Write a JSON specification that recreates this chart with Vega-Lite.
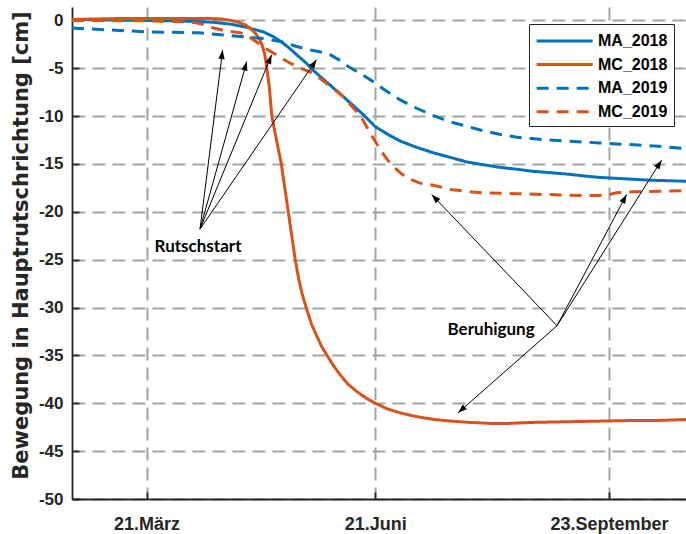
{
  "$schema": "https://vega.github.io/schema/vega-lite/v6.json",
  "width": 614,
  "height": 492,
  "autosize": {"type": "none"},
  "padding": {"left": 72, "top": 7, "right": 0, "bottom": 35},
  "background": "white",
  "config": {
    "view": {"stroke": null},
    "font": "Liberation Sans",
    "axis": {
      "domainColor": "#262626",
      "domainWidth": 1.8,
      "tickColor": "#262626",
      "tickWidth": 1.8,
      "labelColor": "#262626",
      "labelFont": "Liberation Sans",
      "labelFontWeight": "bold",
      "labelFontSize": 17,
      "titleFont": "DejaVu Sans",
      "titleColor": "#262626",
      "gridColor": "#a3a3a3",
      "gridWidth": 2,
      "gridDash": [13, 7]
    },
    "legend": {
      "orient": "none",
      "legendX": 457,
      "legendY": 17,
      "strokeColor": "#262626",
      "fillColor": "white",
      "padding": 6,
      "symbolType": "M-1,0H5",
      "symbolSize": 348,
      "symbolStrokeWidth": 3,
      "labelFont": "Liberation Sans",
      "labelFontSize": 16,
      "labelFontWeight": "bold",
      "labelColor": "#000000",
      "labelOffset": 41,
      "rowPadding": 4.6,
      "cornerRadius": 0
    }
  },
  "resolve": {"axis": {"x": "independent"}},
  "layer": [
    {
      "data": {
        "values": [
          {"s": "MA_2018", "d": 50, "v": 0.1}, {"s": "MA_2018", "d": 80, "v": 0.0}, {"s": "MA_2018", "d": 100, "v": -0.1}, {"s": "MA_2018", "d": 107, "v": -0.2}, {"s": "MA_2018", "d": 114, "v": -0.4}, {"s": "MA_2018", "d": 120, "v": -0.7}, {"s": "MA_2018", "d": 127, "v": -1.2}, {"s": "MA_2018", "d": 131, "v": -1.7}, {"s": "MA_2018", "d": 134, "v": -2.2}, {"s": "MA_2018", "d": 137, "v": -2.8}, {"s": "MA_2018", "d": 140, "v": -3.5}, {"s": "MA_2018", "d": 144, "v": -4.4}, {"s": "MA_2018", "d": 147, "v": -5.2}, {"s": "MA_2018", "d": 150, "v": -5.9}, {"s": "MA_2018", "d": 154, "v": -6.8}, {"s": "MA_2018", "d": 158, "v": -7.7}, {"s": "MA_2018", "d": 161, "v": -8.4}, {"s": "MA_2018", "d": 164, "v": -9.1}, {"s": "MA_2018", "d": 167, "v": -9.8}, {"s": "MA_2018", "d": 172, "v": -11.1}, {"s": "MA_2018", "d": 177, "v": -11.9}, {"s": "MA_2018", "d": 182, "v": -12.6}, {"s": "MA_2018", "d": 188, "v": -13.2}, {"s": "MA_2018", "d": 195, "v": -13.8}, {"s": "MA_2018", "d": 202, "v": -14.3}, {"s": "MA_2018", "d": 209, "v": -14.8}, {"s": "MA_2018", "d": 216, "v": -15.1}, {"s": "MA_2018", "d": 222, "v": -15.35}, {"s": "MA_2018", "d": 229, "v": -15.55}, {"s": "MA_2018", "d": 235, "v": -15.75}, {"s": "MA_2018", "d": 242, "v": -15.9}, {"s": "MA_2018", "d": 249, "v": -16.05}, {"s": "MA_2018", "d": 256, "v": -16.25}, {"s": "MA_2018", "d": 262, "v": -16.4}, {"s": "MA_2018", "d": 269, "v": -16.5}, {"s": "MA_2018", "d": 276, "v": -16.6}, {"s": "MA_2018", "d": 283, "v": -16.7}, {"s": "MA_2018", "d": 290, "v": -16.75}, {"s": "MA_2018", "d": 297, "v": -16.8},
          {"s": "MC_2018", "d": 50, "v": 0.1}, {"s": "MC_2018", "d": 70, "v": 0.2}, {"s": "MC_2018", "d": 90, "v": 0.2}, {"s": "MC_2018", "d": 105, "v": 0.2}, {"s": "MC_2018", "d": 110, "v": 0.15}, {"s": "MC_2018", "d": 114, "v": 0.0}, {"s": "MC_2018", "d": 117, "v": -0.2}, {"s": "MC_2018", "d": 120, "v": -0.5}, {"s": "MC_2018", "d": 122, "v": -0.9}, {"s": "MC_2018", "d": 124, "v": -1.4}, {"s": "MC_2018", "d": 125.5, "v": -2.0}, {"s": "MC_2018", "d": 126.5, "v": -2.6}, {"s": "MC_2018", "d": 127.5, "v": -3.5}, {"s": "MC_2018", "d": 128.4, "v": -5.0}, {"s": "MC_2018", "d": 129.4, "v": -7.0}, {"s": "MC_2018", "d": 130.4, "v": -10.0}, {"s": "MC_2018", "d": 131.5, "v": -11.5}, {"s": "MC_2018", "d": 132.5, "v": -12.8}, {"s": "MC_2018", "d": 134.2, "v": -15.0}, {"s": "MC_2018", "d": 135.6, "v": -17.5}, {"s": "MC_2018", "d": 137, "v": -20.0}, {"s": "MC_2018", "d": 138.4, "v": -22.5}, {"s": "MC_2018", "d": 139.8, "v": -25.0}, {"s": "MC_2018", "d": 141.2, "v": -27.0}, {"s": "MC_2018", "d": 142.5, "v": -28.5}, {"s": "MC_2018", "d": 144.2, "v": -30.0}, {"s": "MC_2018", "d": 146.3, "v": -31.7}, {"s": "MC_2018", "d": 148.5, "v": -33.0}, {"s": "MC_2018", "d": 150.5, "v": -34.1}, {"s": "MC_2018", "d": 152.6, "v": -35.0}, {"s": "MC_2018", "d": 155, "v": -36.0}, {"s": "MC_2018", "d": 157.8, "v": -37.0}, {"s": "MC_2018", "d": 161, "v": -38.0}, {"s": "MC_2018", "d": 164.7, "v": -38.8}, {"s": "MC_2018", "d": 168, "v": -39.4}, {"s": "MC_2018", "d": 172, "v": -40.0}, {"s": "MC_2018", "d": 177, "v": -40.6}, {"s": "MC_2018", "d": 182, "v": -41.0}, {"s": "MC_2018", "d": 187, "v": -41.3}, {"s": "MC_2018", "d": 191, "v": -41.5}, {"s": "MC_2018", "d": 196, "v": -41.7}, {"s": "MC_2018", "d": 202, "v": -41.85}, {"s": "MC_2018", "d": 210, "v": -42.0}, {"s": "MC_2018", "d": 218, "v": -42.1}, {"s": "MC_2018", "d": 226, "v": -42.1}, {"s": "MC_2018", "d": 235, "v": -42.0}, {"s": "MC_2018", "d": 245, "v": -41.95}, {"s": "MC_2018", "d": 255, "v": -41.9}, {"s": "MC_2018", "d": 265, "v": -41.85}, {"s": "MC_2018", "d": 275, "v": -41.8}, {"s": "MC_2018", "d": 285, "v": -41.8}, {"s": "MC_2018", "d": 297, "v": -41.7},
          {"s": "MA_2019", "d": 50, "v": -0.8}, {"s": "MA_2019", "d": 65, "v": -1.0}, {"s": "MA_2019", "d": 81, "v": -1.2}, {"s": "MA_2019", "d": 101, "v": -1.3}, {"s": "MA_2019", "d": 114, "v": -1.6}, {"s": "MA_2019", "d": 127, "v": -1.9}, {"s": "MA_2019", "d": 134, "v": -2.2}, {"s": "MA_2019", "d": 140, "v": -2.7}, {"s": "MA_2019", "d": 146, "v": -3.1}, {"s": "MA_2019", "d": 150, "v": -3.3}, {"s": "MA_2019", "d": 154, "v": -3.6}, {"s": "MA_2019", "d": 158, "v": -4.2}, {"s": "MA_2019", "d": 161, "v": -4.8}, {"s": "MA_2019", "d": 165, "v": -5.4}, {"s": "MA_2019", "d": 170, "v": -6.2}, {"s": "MA_2019", "d": 176, "v": -7.3}, {"s": "MA_2019", "d": 182, "v": -8.3}, {"s": "MA_2019", "d": 188, "v": -9.1}, {"s": "MA_2019", "d": 194, "v": -9.8}, {"s": "MA_2019", "d": 202, "v": -10.6}, {"s": "MA_2019", "d": 208, "v": -11.0}, {"s": "MA_2019", "d": 215, "v": -11.5}, {"s": "MA_2019", "d": 222, "v": -11.9}, {"s": "MA_2019", "d": 229, "v": -12.2}, {"s": "MA_2019", "d": 235, "v": -12.35}, {"s": "MA_2019", "d": 242, "v": -12.5}, {"s": "MA_2019", "d": 252, "v": -12.65}, {"s": "MA_2019", "d": 262, "v": -12.8}, {"s": "MA_2019", "d": 269, "v": -12.9}, {"s": "MA_2019", "d": 276, "v": -13.0}, {"s": "MA_2019", "d": 286, "v": -13.15}, {"s": "MA_2019", "d": 297, "v": -13.4},
          {"s": "MC_2019", "d": 50, "v": 0.0}, {"s": "MC_2019", "d": 80, "v": -0.05}, {"s": "MC_2019", "d": 95, "v": -0.15}, {"s": "MC_2019", "d": 100, "v": -0.25}, {"s": "MC_2019", "d": 104, "v": -0.5}, {"s": "MC_2019", "d": 107, "v": -0.8}, {"s": "MC_2019", "d": 112, "v": -1.1}, {"s": "MC_2019", "d": 118, "v": -1.3}, {"s": "MC_2019", "d": 121, "v": -1.7}, {"s": "MC_2019", "d": 124, "v": -2.2}, {"s": "MC_2019", "d": 127, "v": -2.8}, {"s": "MC_2019", "d": 131, "v": -3.4}, {"s": "MC_2019", "d": 134, "v": -3.9}, {"s": "MC_2019", "d": 138, "v": -4.5}, {"s": "MC_2019", "d": 142, "v": -5.0}, {"s": "MC_2019", "d": 146, "v": -5.4}, {"s": "MC_2019", "d": 150, "v": -6.1}, {"s": "MC_2019", "d": 154, "v": -6.9}, {"s": "MC_2019", "d": 158, "v": -7.7}, {"s": "MC_2019", "d": 161, "v": -8.5}, {"s": "MC_2019", "d": 164, "v": -9.4}, {"s": "MC_2019", "d": 167, "v": -10.4}, {"s": "MC_2019", "d": 170, "v": -11.8}, {"s": "MC_2019", "d": 174, "v": -13.5}, {"s": "MC_2019", "d": 177, "v": -14.6}, {"s": "MC_2019", "d": 179, "v": -15.2}, {"s": "MC_2019", "d": 182, "v": -15.9}, {"s": "MC_2019", "d": 185, "v": -16.5}, {"s": "MC_2019", "d": 190, "v": -17.0}, {"s": "MC_2019", "d": 195, "v": -17.2}, {"s": "MC_2019", "d": 203, "v": -17.7}, {"s": "MC_2019", "d": 210, "v": -17.9}, {"s": "MC_2019", "d": 215, "v": -18.0}, {"s": "MC_2019", "d": 229, "v": -18.1}, {"s": "MC_2019", "d": 242, "v": -18.2}, {"s": "MC_2019", "d": 255, "v": -18.3}, {"s": "MC_2019", "d": 262, "v": -18.3}, {"s": "MC_2019", "d": 266, "v": -18.2}, {"s": "MC_2019", "d": 269, "v": -18.0}, {"s": "MC_2019", "d": 276, "v": -17.9}, {"s": "MC_2019", "d": 286, "v": -17.85}, {"s": "MC_2019", "d": 297, "v": -17.8}
        ]
      },
      "mark": {"type": "line", "strokeWidth": 3, "strokeCap": "butt"},
      "encoding": {
        "x": {
          "field": "d", "type": "quantitative",
          "scale": {"domain": [50, 297], "nice": false, "zero": false},
          "axis": {
            "orient": "bottom", "title": null, "values": [80, 172, 266],
            "labelExpr": "datum.value == 80 ? '21.März' : datum.value == 172 ? '21.Juni' : '23.September'",
            "grid": true, "tickSize": -7, "labelPadding": 23, "labelFontSize": 18
          }
        },
        "y": {
          "field": "v", "type": "quantitative",
          "scale": {"domain": [-50, 1.4], "nice": false, "zero": false},
          "axis": {
            "title": "Bewegung in Hauptrutschrichtung [cm]",
            "titleFontSize": 21, "titleFontWeight": "bold", "titlePadding": 7, "titleY": 238,
            "values": [-50, -45, -40, -35, -30, -25, -20, -15, -10, -5, 0],
            "labelExpr": "'' + datum.value",
            "grid": true, "tickSize": -7, "labelPadding": 16
          }
        },
        "color": {
          "field": "s", "type": "nominal",
          "scale": {"domain": ["MA_2018", "MC_2018", "MA_2019", "MC_2019"], "range": ["#0072BD", "#D95319", "#0072BD", "#D95319"]},
          "legend": {"title": null}
        },
        "strokeDash": {
          "field": "s", "type": "nominal",
          "scale": {"domain": ["MA_2018", "MC_2018", "MA_2019", "MC_2019"], "range": [[1, 0], [1, 0], [12, 8], [12, 8]]},
          "legend": {"title": null}
        }
      }
    },
    {
      "data": {
        "values": [
          {"g": "Rutschstart", "d0": 101.5, "v0": -21.8, "d": 110.6, "v": -3.1},
          {"g": "Rutschstart", "d0": 101.5, "v0": -21.8, "d": 120.3, "v": -4.3},
          {"g": "Rutschstart", "d0": 101.5, "v0": -21.8, "d": 130.3, "v": -3.6},
          {"g": "Rutschstart", "d0": 101.5, "v0": -21.8, "d": 148.4, "v": -4.1},
          {"g": "Beruhigung", "d0": 245.1, "v0": -31.9, "d": 205.3, "v": -41.0},
          {"g": "Beruhigung", "d0": 245.1, "v0": -31.9, "d": 194.7, "v": -18.2},
          {"g": "Beruhigung", "d0": 245.1, "v0": -31.9, "d": 273.1, "v": -18.2},
          {"g": "Beruhigung", "d0": 245.1, "v0": -31.9, "d": 287.2, "v": -14.6}
        ]
      },
      "layer": [
        {
          "mark": {"type": "rule", "strokeWidth": 1, "color": "#000000"},
          "encoding": {
            "x": {
              "field": "d", "type": "quantitative",
              "axis": {"orient": "top", "title": null, "values": [80, 172, 266], "labels": false, "grid": false, "tickSize": -7}
            },
            "y": {"field": "v", "type": "quantitative"},
            "x2": {"field": "d0"},
            "y2": {"field": "v0"}
          }
        },
        {
          "transform": [
            {"calculate": "atan2((datum.d - datum.d0) * 2.4858, (datum.v - datum.v0) * 9.572) * 180 / PI", "as": "ang"}
          ],
          "mark": {"type": "point", "shape": "M0,0L-0.35,1L0.35,1Z", "filled": true, "size": 324, "color": "#000000", "opacity": 1, "strokeWidth": 0},
          "encoding": {
            "x": {"field": "d", "type": "quantitative", "axis": null},
            "y": {"field": "v", "type": "quantitative"},
            "angle": {"field": "ang", "type": "quantitative", "scale": null}
          }
        }
      ]
    },
    {
      "data": {
        "values": [
          {"label": "Rutschstart", "d": 100.7, "v": -23.7},
          {"label": "Beruhigung", "d": 218.6, "v": -32.3}
        ]
      },
      "mark": {"type": "text", "font": "Lato", "fontWeight": "bold", "fontSize": 17, "color": "#000000", "align": "center", "baseline": "middle"},
      "encoding": {
        "x": {"field": "d", "type": "quantitative", "axis": null},
        "y": {"field": "v", "type": "quantitative"},
        "text": {"field": "label"}
      }
    }
  ]
}
